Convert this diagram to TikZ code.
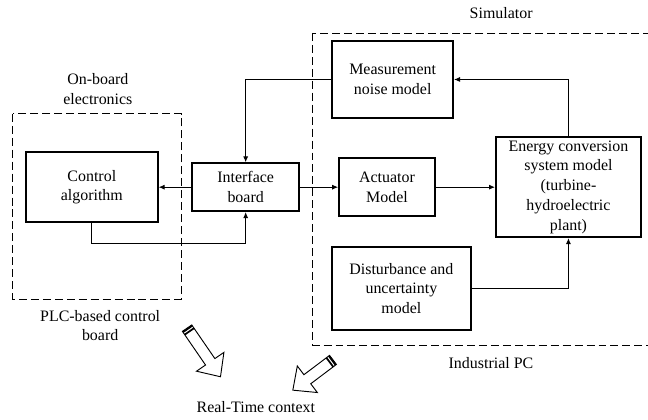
\documentclass[tikz,border=0pt]{standalone}
\usepackage{fontspec}
\setmainfont{Liberation Serif}
\usetikzlibrary{arrows.meta}

\begin{document}
\begin{tikzpicture}[
    font=\fontsize{12}{14.9}\selectfont,
    block/.style={draw, line width=1.3pt, align=center, inner sep=0pt},
    frame/.style={line width=0.7pt, dash pattern=on 6pt off 3pt},
    link/.style={line width=0.7pt, -{Latex[length=4.5pt,width=3.8pt]}},
    fat/.style={line width=0.7pt, fill=white, line join=miter}
  ]
        \useasboundingbox (0,0) rectangle (17.145,11.1125);

        % dashed frames
        \draw[frame] (0.34,8.10) rectangle (4.79,3.20);
        \draw[frame] (8.28,10.24) rectangle (17.3,1.98);

        \node (onboard) at (2.59,8.76) [align=center] {On-board\\electronics};
        \node (plc) at (2.65,2.50) [align=center] {PLC-based control\\board};
        \node (sim) at (13.26,10.77) {Simulator};
        \node (ipc) at (12.99,1.51) {Industrial PC};
        \node (rt) at (6.77,0.33) {Real-Time context};

        % blocks
        \node[block, minimum width=3.49cm, minimum height=1.85cm] (ctrl) at (2.43,6.16) {Control\\algorithm};
        \node[block, minimum width=2.83cm, minimum height=1.27cm] (iface) at (6.50,6.16) {Interface\\board};
        \node[block, minimum width=3.20cm, minimum height=2.04cm] (meas) at (10.39,9.01) {Measurement\\noise model};
        \node[block, minimum width=2.54cm, minimum height=1.53cm] (act) at (10.24,6.16) {Actuator\\Model};
        \node[block, minimum width=3.84cm, minimum height=2.65cm] (ecs) at (15.04,6.16) {Energy conversion\\system model\\(turbine-\\hydroelectric\\plant)};
        \node[block, minimum width=3.68cm, minimum height=2.20cm] (dist) at (10.62,3.48) {Disturbance and\\uncertainty\\model};

        % signal paths
        \draw[link] (meas.west) -| (iface.north);
        \draw[link] (iface.west) -- (ctrl.east);
        \draw[link] (ctrl.south) -- ++(0,-0.53) -| (iface.south);
        \draw[link] (iface.east) -- (act.west);
        \draw[link] (act.east) -- (ecs.west);
        \draw[link] (dist.east) -| (ecs.south);
        \draw[link] (ecs.north) |- (meas.east);

        % hollow arrows to the real-time context
        \begin{scope}[shift={(4.95,2.43)}, rotate=-55.5]
        \draw[fat] (0,-0.15)--(1.08,-0.15)--(1.08,-0.44)--(1.56,0)--(1.08,0.44)--(1.08,0.15)--(0,0.15)--cycle;
        \draw[line width=1.3pt] (0.025,-0.15)--(0.025,0.15);
        \draw[line width=1.3pt] (0.105,-0.15)--(0.105,0.15);
        \end{scope}
        \begin{scope}[shift={(8.81,1.59)}, rotate=-143]
        \draw[fat] (0,-0.15)--(0.85,-0.15)--(0.85,-0.44)--(1.33,0)--(0.85,0.44)--(0.85,0.15)--(0,0.15)--cycle;
        \draw[line width=1.3pt] (0.025,-0.15)--(0.025,0.15);
        \draw[line width=1.3pt] (0.105,-0.15)--(0.105,0.15);
        \end{scope}
\end{tikzpicture}
\end{document}
